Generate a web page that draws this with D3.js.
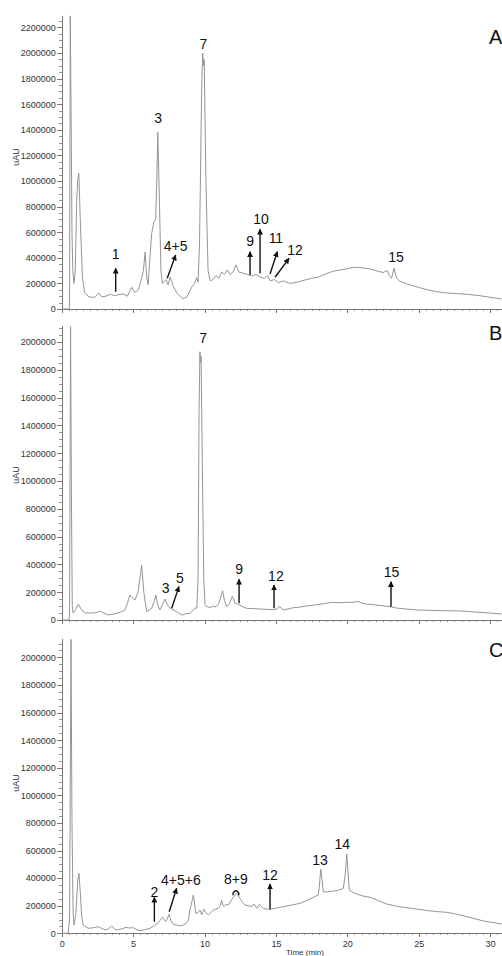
<!DOCTYPE html>
<html>
<head>
<meta charset="utf-8">
<script src="https://cdn.jsdelivr.net/npm/d3@7"></script>
<style>
body{margin:0;background:#fff;}
svg text{font-family:Arial,"Liberation Sans",sans-serif;}
.trace{fill:none;stroke:#959595;stroke-width:1;stroke-linejoin:round;}
.axis path,.axis line{stroke:#777;shape-rendering:crispEdges;}
.axis text{fill:#333;font-size:9px;}
.minor path{display:none;}
.minor line{stroke:#999;}
.arrow{stroke:#111;stroke-width:1.4;fill:none;}
.peak{font-size:14px;fill:#111;text-anchor:middle;}
.panel{font-size:20px;fill:#111;}
.ytitle{font-size:9px;fill:#333;text-anchor:middle;}
</style>
</head>
<body>
<svg id="chart" width="502" height="956"></svg>
<script>
// time ticks (min) and intensity ticks (uAU)
var timeTicks=[0,5,10,15,20,25,30];
var panelNames=["A","B","C"];

// traces: [time, uAU]
var traceA=[[0,0],[0.5,0],[0.55,20000],[0.6,2290000],[0.66,1500000],[0.72,600000],[0.78,300000],[0.86,200000],[0.95,300000],[1.05,850000],[1.12,1000000],[1.2,1060000],[1.3,700000],[1.45,250000],[1.6,130000],[1.9,95000],[2.3,90000],[2.6,125000],[2.8,95000],[3.1,100000],[3.4,115000],[3.7,105000],[4.0,112000],[4.3,118000],[4.6,100000],[4.9,170000],[5.1,130000],[5.37,148000],[5.6,240000],[5.72,300000],[5.84,445000],[5.95,250000],[6.05,190000],[6.15,350000],[6.3,590000],[6.45,680000],[6.58,700000],[6.66,1000000],[6.73,1380000],[6.78,1150000],[6.85,800000],[6.95,300000],[7.05,200000],[7.3,230000],[7.45,190000],[7.6,250000],[7.8,180000],[8.1,120000],[8.5,78000],[8.8,100000],[9.1,170000],[9.3,200000],[9.45,245000],[9.55,210000],[9.65,500000],[9.8,1700000],[9.87,2000000],[9.93,1900000],[9.98,1950000],[10.1,1000000],[10.25,300000],[10.4,220000],[10.6,230000],[10.8,260000],[11.0,240000],[11.2,290000],[11.4,270000],[11.6,305000],[11.8,270000],[12.0,290000],[12.2,345000],[12.4,290000],[12.7,280000],[13.0,270000],[13.3,258000],[13.6,270000],[13.9,250000],[14.2,240000],[14.4,260000],[14.6,220000],[14.9,230000],[15.2,205000],[15.5,220000],[16.0,200000],[16.5,210000],[17.0,225000],[17.5,240000],[18.0,250000],[18.5,275000],[19.0,295000],[19.5,305000],[20.0,315000],[20.5,326000],[21.0,322000],[21.5,315000],[22.0,300000],[22.5,285000],[22.8,300000],[22.95,260000],[23.1,240000],[23.27,320000],[23.45,240000],[23.7,215000],[24.2,195000],[24.9,172000],[25.6,150000],[26.3,135000],[27.0,125000],[27.7,120000],[28.4,115000],[29.2,105000],[30.0,92000],[30.8,78000]];

var traceB=[[0,0],[0.5,0],[0.55,30000],[0.62,2110000],[0.68,900000],[0.74,100000],[0.8,50000],[0.95,70000],[1.16,115000],[1.35,80000],[1.6,52000],[2.0,50000],[2.4,52000],[2.68,65000],[2.95,50000],[3.26,36000],[3.7,45000],[4.08,55000],[4.43,72000],[4.6,120000],[4.78,180000],[4.95,160000],[5.13,144000],[5.35,200000],[5.6,395000],[5.75,200000],[5.95,60000],[6.3,84000],[6.5,140000],[6.6,180000],[6.72,110000],[6.88,72000],[7.05,110000],[7.23,151000],[7.4,110000],[7.58,86000],[8.05,60000],[8.4,36000],[8.7,45000],[8.98,48000],[9.2,70000],[9.33,86000],[9.46,85000],[9.55,300000],[9.62,1500000],[9.68,1930000],[9.72,1850000],[9.76,1900000],[9.85,1100000],[9.95,300000],[10.04,110000],[10.15,96000],[10.4,90000],[10.6,100000],[10.74,93000],[10.95,110000],[11.1,150000],[11.27,210000],[11.4,140000],[11.55,96000],[11.75,120000],[11.95,172000],[12.13,120000],[12.4,110000],[12.7,95000],[12.95,84000],[13.4,82000],[13.9,79000],[14.4,76000],[14.9,75000],[15.1,80000],[15.24,100000],[15.5,72000],[15.9,80000],[16.2,88000],[16.6,92000],[17.1,100000],[17.6,106000],[18.2,115000],[18.9,127000],[19.4,124000],[19.96,127000],[20.4,128000],[20.77,133000],[21.0,122000],[21.35,115000],[22.0,108000],[22.5,102000],[23.0,96000],[23.5,85000],[24.2,78000],[24.86,72000],[25.6,70000],[26.5,67000],[27.9,65000],[29.0,57000],[30.0,50000],[30.8,43000]];

var traceC=[[0,0],[0.45,0],[0.55,100000],[0.65,2130000],[0.72,800000],[0.8,150000],[0.86,60000],[1.0,150000],[1.12,380000],[1.21,435000],[1.3,300000],[1.4,120000],[1.5,60000],[1.86,36000],[2.2,40000],[2.56,48000],[2.8,35000],[3.1,24000],[3.3,35000],[3.5,53000],[3.65,35000],[3.85,24000],[4.2,32000],[4.5,43000],[4.75,38000],[5.0,41000],[5.2,28000],[5.48,19000],[5.8,25000],[6.18,36000],[6.5,55000],[6.76,77000],[6.9,95000],[7.05,116000],[7.28,84000],[7.4,105000],[7.51,138000],[7.65,90000],[7.81,67000],[8.1,58000],[8.4,55000],[8.7,70000],[8.87,96000],[8.98,169000],[9.12,230000],[9.22,278000],[9.3,220000],[9.38,145000],[9.55,150000],[9.68,169000],[9.8,133000],[9.96,174000],[10.1,150000],[10.27,133000],[10.45,150000],[10.62,169000],[10.8,175000],[10.97,181000],[11.1,200000],[11.2,241000],[11.3,200000],[11.37,193000],[11.5,210000],[11.67,205000],[11.85,235000],[12.02,261000],[12.15,280000],[12.25,290000],[12.35,275000],[12.49,253000],[12.65,225000],[12.84,205000],[13.05,200000],[13.3,193000],[13.47,212000],[13.66,181000],[13.84,210000],[14.12,181000],[14.4,175000],[14.59,174000],[15.0,182000],[15.52,193000],[16.1,205000],[16.69,217000],[17.2,240000],[17.62,261000],[17.97,278000],[18.05,350000],[18.14,464000],[18.22,400000],[18.32,301000],[18.6,300000],[19.02,306000],[19.4,312000],[19.72,326000],[19.85,420000],[19.96,575000],[20.05,450000],[20.14,314000],[20.4,295000],[20.66,285000],[21.1,270000],[21.59,261000],[22.2,235000],[22.76,212000],[23.5,195000],[24.2,185000],[24.86,176000],[25.6,165000],[26.3,157000],[26.96,152000],[27.6,140000],[28.2,125000],[28.82,109000],[29.5,90000],[30.2,78000],[30.8,67000]];

// arrows: [t0, v0, t1, v1]  (tail -> head)
var arrowsA=[[3.78,135000,3.78,318000],[7.39,240000,7.98,422000],[13.19,266000,13.19,448000],[13.89,279000,13.89,623000],[14.59,273000,15.1,448000],[14.94,248000,15.92,396000]];
var arrowsB=[[7.7,84000,8.21,240000],[12.42,120000,12.42,293000],[14.87,84000,14.87,252000],[23.06,96000,23.06,276000]];
var arrowsC=[[6.49,84000,6.49,261000],[7.53,156000,8.05,326000],[14.59,174000,14.59,357000]];

// peak labels: [text, t, v(baseline)]
var labelsA=[["1",3.78,390000],["3",6.76,1457000],["4+5",7.98,453000],["7",9.92,2029000],["9",13.19,492000],["10",13.96,662000],["11",15.0,518000],["12",16.34,422000],["15",23.41,365000]];
var labelsB=[["3",7.28,192000],["5",8.28,268000],["7",9.9,1990000],["9",12.42,329000],["12",15.0,281000],["15",23.1,307000]];
var labelsC=[["2",6.49,265000],["4+5+6",8.35,350000],["8+9",12.2,355000],["12",14.59,387000],["13",18.09,495000],["14",19.65,611000]];

// small bracket over 8+9 in C: [t0, t1, v]
var bracketC=[12.0,12.4,276000];

// layout
var x0=61.7, pxPerMin=14.28, tMax=30.8;
var panels=[
  {name:panelNames[0],trace:traceA,arrows:arrowsA,labels:labelsA,bottom:309,top:15,yTop:2297000,titleY:157,nameY:43.5,xLabels:false},
  {name:panelNames[1],trace:traceB,arrows:arrowsB,labels:labelsB,bottom:620,top:325,yTop:2122000,titleY:475,nameY:340,xLabels:false},
  {name:panelNames[2],trace:traceC,arrows:arrowsC,labels:labelsC,bottom:933.3,top:638,yTop:2140000,titleY:783,nameY:657,xLabels:true,bracket:bracketC}
];

var svg=d3.select("#chart");
var defs=svg.append("defs");
defs.append("marker").attr("id","head").attr("viewBox","0 0 10 10")
  .attr("refX",9).attr("refY",5).attr("markerWidth",4.2).attr("markerHeight",4.2)
  .attr("orient","auto")
  .append("path").attr("d","M0,0L10,5L0,10z").attr("fill","#111");

var x=d3.scaleLinear().domain([0,tMax]).range([x0,x0+tMax*pxPerMin]);

panels.forEach(function(p){
  var y=d3.scaleLinear().domain([0,p.yTop]).range([p.bottom,p.top]);
  var g=svg.append("g");

  // minor ticks first
  g.append("g").attr("class","axis minor").attr("transform","translate("+x0+",0)")
    .call(d3.axisLeft(y).tickValues(d3.range(0,p.yTop,50000)).tickSize(3).tickFormat(""));
  g.append("g").attr("class","axis").attr("transform","translate("+x0+",0)")
    .call(d3.axisLeft(y).tickValues(d3.range(0,p.yTop,200000)).tickSize(5).tickSizeOuter(0).tickPadding(1).tickFormat(d3.format("d")));

  g.append("g").attr("class","axis minor").attr("transform","translate(0,"+p.bottom+")")
    .call(d3.axisBottom(x).tickValues(d3.range(0,tMax,0.5)).tickSize(2).tickFormat(""));
  var xa=d3.axisBottom(x).tickValues(timeTicks).tickSize(4).tickSizeOuter(0).tickPadding(3);
  if(!p.xLabels) xa.tickFormat("");
  g.append("g").attr("class","axis").attr("transform","translate(0,"+p.bottom+")").call(xa);

  g.append("text").attr("class","ytitle")
    .attr("transform","translate(19,"+p.titleY+") rotate(-90)").text("uAU");

  var line=d3.line().x(function(d){return x(d[0]);}).y(function(d){return y(d[1]);});
  g.append("path").attr("class","trace").attr("d",line(p.trace));

  p.arrows.forEach(function(a){
    g.append("line").attr("class","arrow")
      .attr("x1",x(a[0])).attr("y1",y(a[1])).attr("x2",x(a[2])).attr("y2",y(a[3]))
      .attr("marker-end","url(#head)");
  });
  if(p.bracket){
    // open-bottom arch over the merged 8+9 peak
    var b=p.bracket, bx0=x(b[0]), bx1=x(b[1]), by=y(b[2]);
    g.append("path").attr("class","arrow").attr("stroke-width",1.2)
      .attr("d","M"+bx0+","+by+"L"+bx0+","+(by-2)+"Q"+((bx0+bx1)/2)+","+(by-7)+" "+bx1+","+(by-2)+"L"+bx1+","+by);
  }
  p.labels.forEach(function(l){
    g.append("text").attr("class","peak").attr("x",x(l[1])).attr("y",y(l[2])).text(l[0]);
  });

  g.append("text").attr("class","panel").attr("x",489).attr("y",p.nameY).text(p.name);
});

svg.append("text").attr("x",305).attr("y",955).attr("text-anchor","middle")
  .attr("font-size",8).attr("fill","#333").text("Time (min)");
</script>
</body>
</html>
